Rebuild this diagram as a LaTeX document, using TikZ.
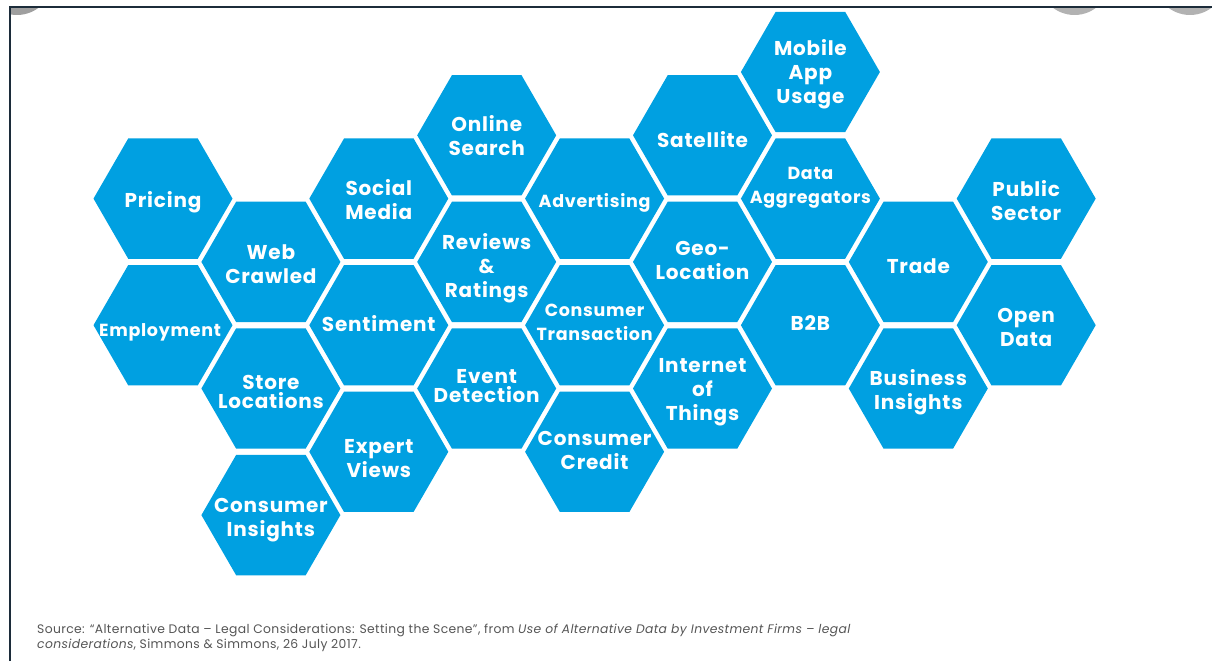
\documentclass[tikz,border=0pt]{standalone}
\usepackage{fontspec}
\setmainfont{Poppins}
\newfontfamily\hexfont{Poppins}[LetterSpace=4]
\newfontfamily\srcfont{Poppins}[LetterSpace=3]
\usepackage{tikz}
\usetikzlibrary{shapes.geometric}
\pgfdeclarelayer{bg}
\pgfsetlayers{bg,main}
\definecolor{hexblue}{RGB}{0,160,225}
\definecolor{framenavy}{RGB}{28,44,58}
\definecolor{srcgray}{RGB}{85,85,85}

\begin{document}
\begin{tikzpicture}[x=1pt, y=-1pt,
  hexcell/.style={regular polygon, regular polygon sides=6, minimum size=139pt,
    inner sep=0pt, outer sep=0pt, fill=hexblue},
  hexlabel/.style={text=white, align=center, inner sep=0pt,
    font=\hexfont\fontsize{20}{24}\selectfont\bfseries},
  hexsmall/.style={hexlabel, font=\hexfont\fontsize{17.5}{24}\selectfont\bfseries},
  hextight/.style={hexlabel, font=\hexfont\fontsize{20}{19}\selectfont\bfseries},
  tabcircle/.style={fill=gray!60}]
        \useasboundingbox (0,0) rectangle (1212,661);
        \node (pricing) [hexcell, label={[hexlabel, yshift=-4pt]center:Pricing}] at (163.0, 198.6) {};
        \node (employment) [hexcell, label={[hexsmall, yshift=-7pt, xshift=-3pt]center:Employment}] at (163.0, 325.2) {};
        \node (webcrawled) [hexcell, label={[hexlabel, yshift=-2pt]center:{Web\\Crawled}}] at (270.9, 261.9) {};
        \node (storeloc) [hexcell, label={[hextight, yshift=-3pt]center:{Store\\Locations}}] at (270.9, 388.5) {};
        \node (consinsights) [hexcell, label={[hexlabel, yshift=-5pt]center:{Consumer\\Insights}}] at (270.9, 515.1) {};
        \node (socialmedia) [hexcell, label={[hexlabel, yshift=-1pt]center:{Social\\Media}}] at (378.8, 198.6) {};
        \node (sentiment) [hexcell, label={[hexlabel, yshift=2pt]center:Sentiment}] at (378.8, 325.2) {};
        \node (expertviews) [hexcell, label={[hexlabel, yshift=-7pt]center:{Expert\\Views}}] at (378.8, 451.8) {};
        \node (onlinesearch) [hexcell, label={[hexlabel]center:{Online\\Search}}] at (486.7, 135.3) {};
        \node (reviews) [hexcell, label={[hexlabel, yshift=-6pt]center:{Reviews\\\&\\Ratings}}] at (486.7, 261.9) {};
        \node (eventdet) [hexcell, label={[hextight, yshift=2pt]center:{Event\\Detection}}] at (486.7, 388.5) {};
        \node (advertising) [hexcell, label={[hexsmall, yshift=-4pt]center:Advertising}] at (594.6, 198.6) {};
        \node (constrans) [hexcell, label={[hexsmall, yshift=2.5pt]center:{Consumer\\Transaction}}] at (594.6, 325.2) {};
        \node (conscredit) [hexcell, label={[hexlabel, yshift=1pt]center:{Consumer\\Credit}}] at (594.6, 451.8) {};
        \node (satellite) [hexcell, label={[hexlabel, yshift=-4pt]center:Satellite}] at (702.5, 135.3) {};
        \node (geoloc) [hexcell, label={[hexlabel, yshift=1pt]center:{Geo-\\Location}}] at (702.5, 261.9) {};
        \node (iot) [hexcell, label={[hexlabel, yshift=-4pt]center:{Internet\\of\\Things}}] at (702.5, 388.5) {};
        \node (mobileapp) [hexcell, label={[hexlabel, yshift=-2pt]center:{Mobile\\App\\Usage}}] at (810.4, 72.0) {};
        \node (dataagg) [hexcell, label={[hexsmall, yshift=11pt]center:{Data\\Aggregators}}] at (810.4, 198.6) {};
        \node (btob) [hexcell, label={[hexlabel, yshift=2pt]center:B2B}] at (810.4, 325.2) {};
        \node (trade) [hexcell, label={[hexlabel, yshift=-4pt]center:Trade}] at (918.3, 261.9) {};
        \node (businsights) [hexcell, label={[hexlabel, yshift=-4pt]center:{Business\\Insights}}] at (918.3, 388.5) {};
        \node (publicsector) [hexcell, label={[hexlabel, yshift=-2pt]center:{Public\\Sector}}] at (1026.2, 198.6) {};
        \node (opendata) [hexcell, label={[hexlabel, yshift=-2pt]center:{Open\\Data}}] at (1026.2, 325.2) {};
        \node (source) [anchor=west, text=srcgray, align=left, inner sep=0pt,
          font=\srcfont\fontsize{12.35}{15}\selectfont] at (37, 638)
          {Source: “Alternative Data – Legal Considerations: Setting the Scene”, from \textit{Use of Alternative Data by Investment Firms – legal}\\
           \textit{considerations}, Simmons \& Simmons, 26 July 2017.};
        \begin{pgfonlayer}{bg}
                \begin{scope}
                        \clip (10,7) rectangle (1212,661);
                        \fill[tabcircle, fill=gray!75] (17,-20.6) circle (35.6pt);
                        \fill[tabcircle] (1074.5,-20.6) circle (35.6pt);
                        \fill[tabcircle] (1190,-20.6) circle (35.6pt);
                \end{scope}
                \draw[framenavy, line width=2pt] (10,661) -- (10,7) -- (1212,7);
        \end{pgfonlayer}
\end{tikzpicture}
\end{document}
